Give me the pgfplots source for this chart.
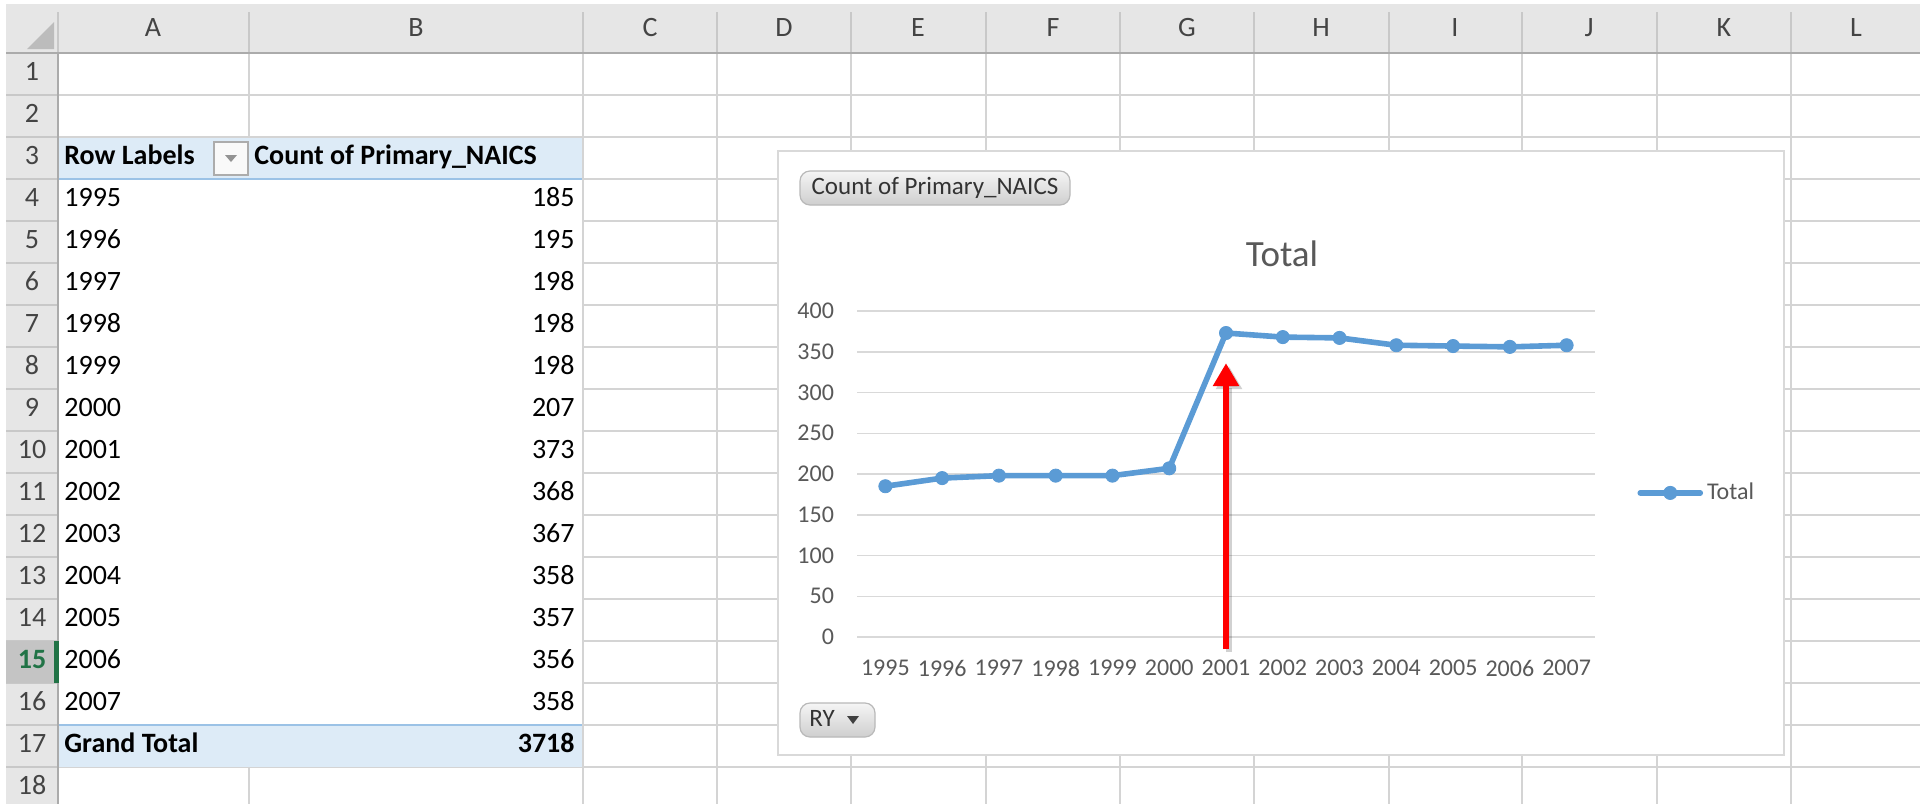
\documentclass[border=0pt]{standalone}
\usepackage{fontspec}
\setmainfont{Carlito}
\usepackage{pgfplots}
\pgfplotsset{compat=1.18}
\usetikzlibrary{arrows.meta}
\definecolor{gridc}{HTML}{D4D4D4}
\definecolor{hdr}{HTML}{E6E6E6}
\definecolor{hdrline}{HTML}{C8C8C8}
\definecolor{hdrdark}{HTML}{ABABAB}
\definecolor{hdrtext}{HTML}{444444}
\definecolor{pivblue}{HTML}{DDEBF7}
\definecolor{pivline}{HTML}{9BC2E6}
\definecolor{xlgreen}{HTML}{217346}
\definecolor{series}{HTML}{5B9BD5}
\definecolor{chartgrid}{HTML}{D9D9D9}
\definecolor{charttext}{HTML}{595959}
\begin{document}
\begin{tikzpicture}
\begin{scope}[x=0.5pt,y=-0.5pt,
  cell/.style={font=\fontsize{14pt}{16pt}\selectfont, inner sep=0pt, text height=0.63em, text depth=0pt, text=black},
  hcell/.style={font=\fontsize{14pt}{16pt}\selectfont, inner sep=0pt, text height=0.63em, text depth=0pt, text=hdrtext}]
\useasboundingbox (0,0) rectangle (1927,804);
\fill[white] (0,0) rectangle (1927,804);
% cell gridlines
\foreach \x in {249,583,717,851,986,1120,1254,1389,1522,1657,1791}
  \draw[gridc, line width=0.75pt] (\x,53) -- (\x,804);
\foreach \k in {1,...,18}
  \draw[gridc, line width=0.75pt] (58,{53+42*\k}) -- (1920,{53+42*\k});
% headers
\fill[hdr] (6,4) rectangle (1920,53);
\fill[hdr] (6,53) rectangle (58,804);
\foreach \x in {58,249,583,717,851,986,1120,1254,1389,1522,1657,1791}
  \draw[hdrline, line width=0.75pt] (\x,12) -- (\x,53);
\foreach \k in {1,...,18}
  \draw[hdrline, line width=0.75pt] (6,{53+42*\k}) -- (58,{53+42*\k});
\fill[hdr!85!black] (6,641) rectangle (58,683);
\draw[hdrdark, line width=0.9pt] (6,53) -- (1920,53);
\draw[hdrdark, line width=0.9pt] (58,53) -- (58,804);
\fill[xlgreen] (54,641) rectangle (58.5,683);
\fill[hdrdark!80] (54,22) -- (54,49) -- (27,49) -- cycle;
% column letters
\foreach \c/\x in {A/153,B/416,C/650,D/784,E/918,F/1053,G/1187,H/1321,I/1455,J/1589,K/1724,L/1856}
  \node[hcell] at (\x,30) {\c};
% row numbers
\foreach \r in {1,...,14,16,17,18}
  \node[hcell] at (32,{32+42*\r}) {\r};
\node[hcell, text=xlgreen, font=\fontsize{14pt}{16pt}\selectfont\bfseries] at (32,662) {15};
% pivot table
\fill[white] (59,179) rectangle (582,725);
\fill[pivblue] (59,138) rectangle (582,179);
\fill[pivblue] (59,725) rectangle (582,767);
\draw[pivline, line width=0.9pt] (59,179) -- (582,179);
\draw[pivline, line width=0.9pt] (59,725) -- (582,725);
\node[cell, anchor=west, font=\fontsize{14pt}{16pt}\selectfont\bfseries] at (64,158) {Row Labels};
\filldraw[fill=white!95!gray, draw=gray!65, line width=0.7pt] (214,142) rectangle (248,175);
\fill[gray!85] (225,155) -- (237,155) -- (231,162) -- cycle;
\node[cell, anchor=west, font=\fontsize{14pt}{16pt}\selectfont\bfseries] at (254,158) {Count of Primary\_NAICS};
\foreach \yr/\v [count=\i from 4] in {1995/185,1996/195,1997/198,1998/198,1999/198,2000/207,2001/373,2002/368,2003/367,2004/358,2005/357,2006/356,2007/358} {
  \node[cell, anchor=west] at (64,{32+42*\i}) {\yr};
  \node[cell, anchor=east] at (575,{32+42*\i}) {\v};
}
\node[cell, anchor=west, font=\fontsize{14pt}{16pt}\selectfont\bfseries] at (64,746) {Grand Total};
\node[cell, anchor=east, font=\fontsize{14pt}{16pt}\selectfont\bfseries] at (575,746) {3718};
% chart area
\filldraw[fill=white, draw=chartgrid, line width=0.9pt] (778,151) rectangle (1784,755);
\path[draw=gray!55, line width=0.6pt, top color=gray!8, bottom color=gray!38, rounded corners=5pt] (800,171) rectangle (1070,205);
\node[cell, text=black!80, font=\fontsize{12.5pt}{14pt}\selectfont] at (935,188) {Count of Primary\_NAICS};
\path[draw=gray!55, line width=0.6pt, top color=gray!8, bottom color=gray!38, rounded corners=5pt] (800,703) rectangle (875,737);
\node[cell, text=black!80, font=\fontsize{12.5pt}{14pt}\selectfont, anchor=west] at (809,720) {RY};
\fill[black!75] (847,716) -- (859,716) -- (853,724) -- cycle;
\node[font=\fontsize{18.5pt}{20pt}\selectfont, text=charttext, inner sep=0pt] at (1282,254) {Total};
\end{scope}
\begin{axis}[
  at={(428.5pt,-318.5pt)}, anchor=south west,
  scale only axis, width=369pt, height=163pt,
  xmin=-0.5, xmax=12.5, ymin=0, ymax=400,
  xtick={0,...,12},
  xticklabels={1995,1996,1997,1998,1999,2000,2001,2002,2003,2004,2005,2006,2007},
  ytick={0,50,...,400},
  ymajorgrids, grid style={chartgrid, line width=0.75pt},
  axis line style={draw=none},
  major tick length=0pt,
  tick label style={font=\fontsize{12pt}{14pt}\selectfont, text=charttext},
  /pgf/number format/assume math mode=true,
  yticklabel style={xshift=-8pt},
  xticklabel style={yshift=-8pt},
  clip=false,
  legend style={at={(axis description cs:1.057,0.442)}, anchor=west, draw=none, fill=none,
    font=\fontsize{12pt}{14pt}\selectfont, text=charttext, inner sep=0pt},
  legend cell align=left,
  legend image code/.code={\draw[mark repeat=2,mark phase=2] plot coordinates {(0pt,0pt) (15pt,0pt) (30pt,0pt)};},
]
\addplot[series, line width=2.8pt, line join=round, line cap=round, mark=*, mark size=3.3pt,
  mark options={solid, fill=series, draw=series, line width=0.4pt}]
  coordinates {(0,185) (1,195) (2,198) (3,198) (4,198) (5,207) (6,373) (7,368) (8,367) (9,358) (10,357) (11,356) (12,358)};
\addlegendentry{Total}
\draw[black, opacity=0.18, line width=3.2pt, -{Triangle[width=12.5pt,length=11.5pt]}] ([xshift=1.5pt,yshift=-1.5pt]axis cs:6,-15) -- ([xshift=1.5pt,yshift=-1.5pt]axis cs:6,336);
\draw[red, line width=3.2pt, -{Triangle[width=12.5pt,length=11.5pt]}] (axis cs:6,-15) -- (axis cs:6,336);
\end{axis}
\end{tikzpicture}
\end{document}
